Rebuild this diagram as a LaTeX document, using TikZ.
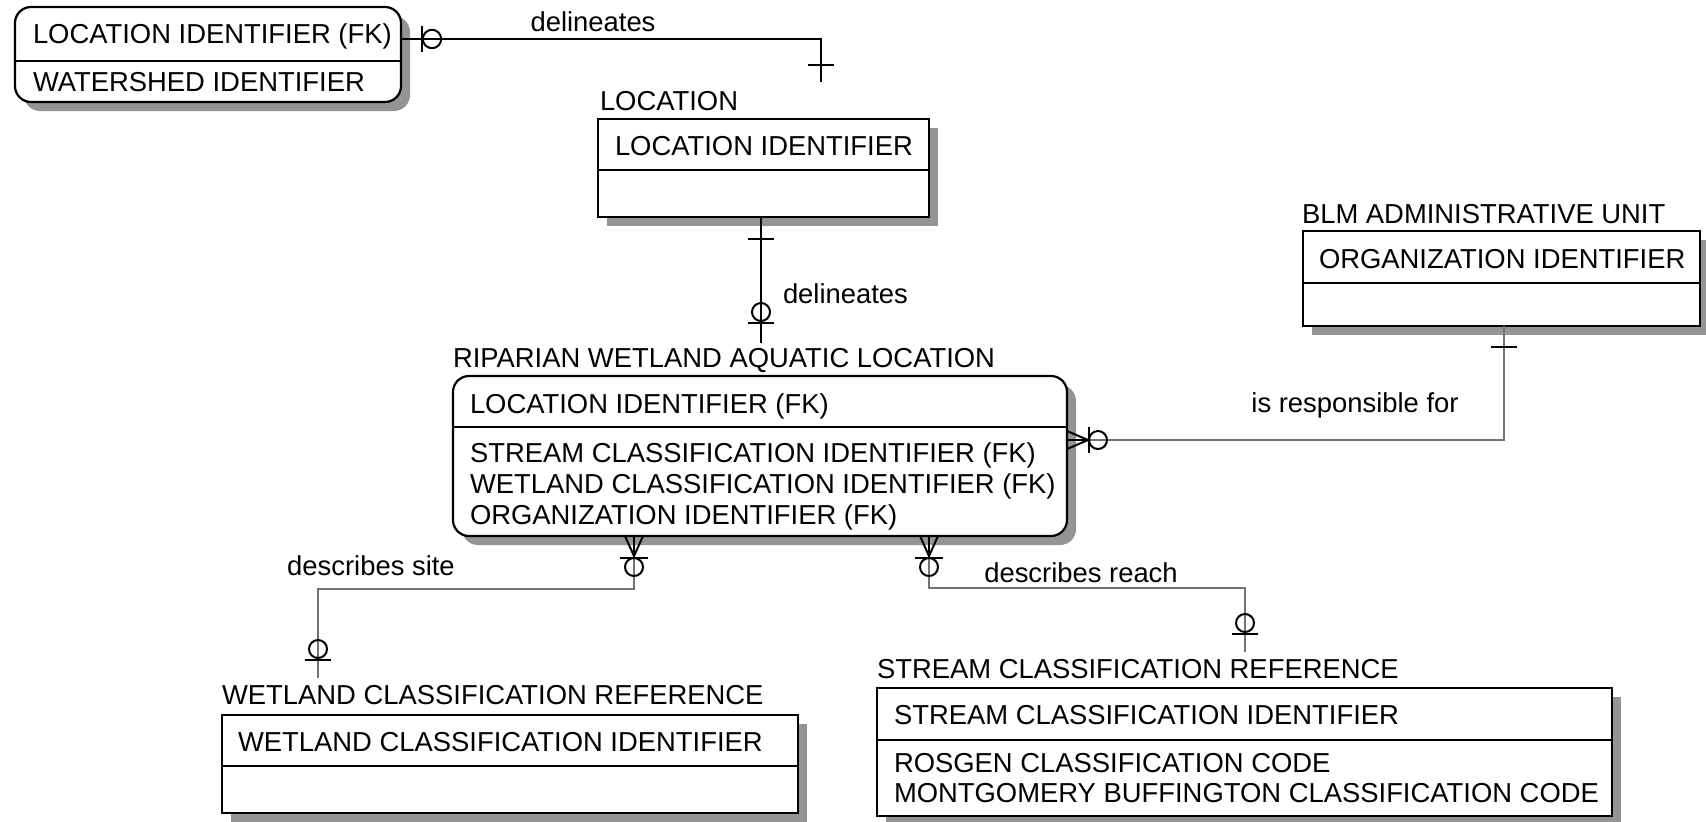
\documentclass[tikz,border=0pt]{standalone}
\usepackage{fontspec}
\setmainfont{Liberation Sans}
\usetikzlibrary{calc,shadows}
\begin{document}
\begin{tikzpicture}[x=0.5pt,y=-0.5pt,
  every node/.style={font=\fontsize{13.7}{16}\selectfont, inner sep=0pt, outer sep=0pt},
  entity/.style={draw, line width=1.1pt, fill=white, anchor=north west,
    drop shadow={shadow xshift=4.5pt, shadow yshift=-4.5pt, fill=black!42, opacity=1}},
  rentity/.style={entity, rounded corners=8pt},
  divider/.style={line width=1.1pt},
  txt/.style={anchor=base west},
  lbl/.style={anchor=base},
  idrel/.style={line width=1pt, black},
  rel/.style={line width=0.6pt, black!55},
  sym/.style={line width=1pt, black}
]
\path[use as bounding box] (0,0) rectangle (1706,821);
\clip (0,0) rectangle (1706,821);
\fill[white] (0,0) rectangle (1706,821);

% ---------- entities ----------
\node[rentity, minimum width=193pt, minimum height=47.5pt] (ws) at (15,7) {};
\draw[divider] (15,61) -- (401,61);
\node[txt] (ws1) at (33,43) {LOCATION IDENTIFIER (FK)};
\node[txt] (ws2) at (33,91) {WATERSHED IDENTIFIER};

\node[txt] (loct) at (600,110) {LOCATION};
\node[entity, minimum width=165.5pt, minimum height=49pt] (loc) at (598,119) {};
\draw[divider] (598,170) -- (929,170);
\node[txt] (loc1) at (615,155) {LOCATION IDENTIFIER};

\node[txt] (blmt) at (1302,223) {BLM ADMINISTRATIVE UNIT};
\node[entity, minimum width=198.5pt, minimum height=47.5pt] (blm) at (1303,231) {};
\draw[divider] (1303,283) -- (1700,283);
\node[txt] (blm1) at (1319,268) {ORGANIZATION IDENTIFIER};

\node[txt] (ript) at (453,367) {RIPARIAN WETLAND AQUATIC LOCATION};
\node[rentity, minimum width=307pt, minimum height=80pt] (rip) at (453,376) {};
\draw[divider] (453,427) -- (1067,427);
\node[txt] (rip1) at (470,413) {LOCATION IDENTIFIER (FK)};
\node[txt] (rip2) at (470,462) {STREAM CLASSIFICATION IDENTIFIER (FK)};
\node[txt] (rip3) at (470,493) {WETLAND CLASSIFICATION IDENTIFIER (FK)};
\node[txt] (rip4) at (470,524) {ORGANIZATION IDENTIFIER (FK)};

\node[txt] (wett) at (222,704) {WETLAND CLASSIFICATION REFERENCE};
\node[entity, minimum width=288pt, minimum height=49pt] (wet) at (222,715) {};
\draw[divider] (222,766) -- (798,766);
\node[txt] (wet1) at (238,751) {WETLAND CLASSIFICATION IDENTIFIER};

\node[txt] (strt) at (877,678) {STREAM CLASSIFICATION REFERENCE};
\node[entity, minimum width=367.5pt, minimum height=64pt] (str) at (877,688) {};
\draw[divider] (877,740) -- (1612,740);
\node[txt] (str1) at (894,724) {STREAM CLASSIFICATION IDENTIFIER};
\node[txt] (str2) at (894,772) {ROSGEN CLASSIFICATION CODE};
\node[txt] (str3) at (894,802) {MONTGOMERY BUFFINGTON CLASSIFICATION CODE};

% ---------- relationship 1: ws -- location (delineates) ----------
\coordinate (d1end) at (821,82);
\draw[idrel] ($(ws.north east)+(0,32)$) -| (d1end);
\draw[sym] (422,26) -- (422,52);
\draw[sym] (432,39) circle[radius=4.6pt];
\draw[sym] (808,65) -- (834,65);
\node[lbl] (l1) at (593,31) {delineates};

% ---------- relationship 2: location -- riparian (delineates) ----------
\draw[idrel] ($(loc.south west)+(163,0)$) -- ($(rip.north west)+(308,-33)$);
\draw[sym] (748,239) -- (774,239);
\draw[sym] (761,312) circle[radius=4.5pt];
\draw[sym] (748,323) -- (774,323);
\node[txt] (l2) at (783,303) {delineates};

% ---------- relationship 3: blm -- riparian (is responsible for) ----------
\draw[rel] ($(blm.south west)+(201,0)$) |- ($(rip.north east)+(0,64)$);
\draw[sym] (1491,347) -- (1517,347);
\draw[sym] (1067,431) -- (1088,440) -- (1067,449);
\draw[sym] (1067,440) -- (1089,440);
\draw[sym] (1089,427) -- (1089,453);
\draw[sym] (1098,440) circle[radius=4.5pt];
\node[lbl] (l3) at (1355,412) {is responsible for};

% ---------- relationship 4: riparian -- wetland ref (describes site) ----------
\draw[rel] ($(rip.south west)+(181,0)$) -- ++(0,53) -| ($(wet.north west)+(96,-37)$);
\draw[sym] (625,536) -- (634,556) -- (643,536);
\draw[sym] (634,536) -- (634,558);
\draw[sym] (620,558) -- (648,558);
\draw[sym] (634,567) circle[radius=4.5pt];
\draw[sym] (318,649) circle[radius=4.5pt];
\draw[sym] (305,660) -- (331,660);
\node[lbl] (l4) at (371,575) {describes site};

% ---------- relationship 5: riparian -- stream ref (describes reach) ----------
\draw[rel] ($(rip.south west)+(476,0)$) -- ++(0,52) -| ($(str.north west)+(368,-36)$);
\draw[sym] (920,536) -- (929,556) -- (938,536);
\draw[sym] (929,536) -- (929,558);
\draw[sym] (915,558) -- (943,558);
\draw[sym] (929,567) circle[radius=4.5pt];
\draw[sym] (1245,623) circle[radius=4.5pt];
\draw[sym] (1232,634) -- (1258,634);
\node[lbl] (l5) at (1081,582) {describes reach};
\end{tikzpicture}
\end{document}
